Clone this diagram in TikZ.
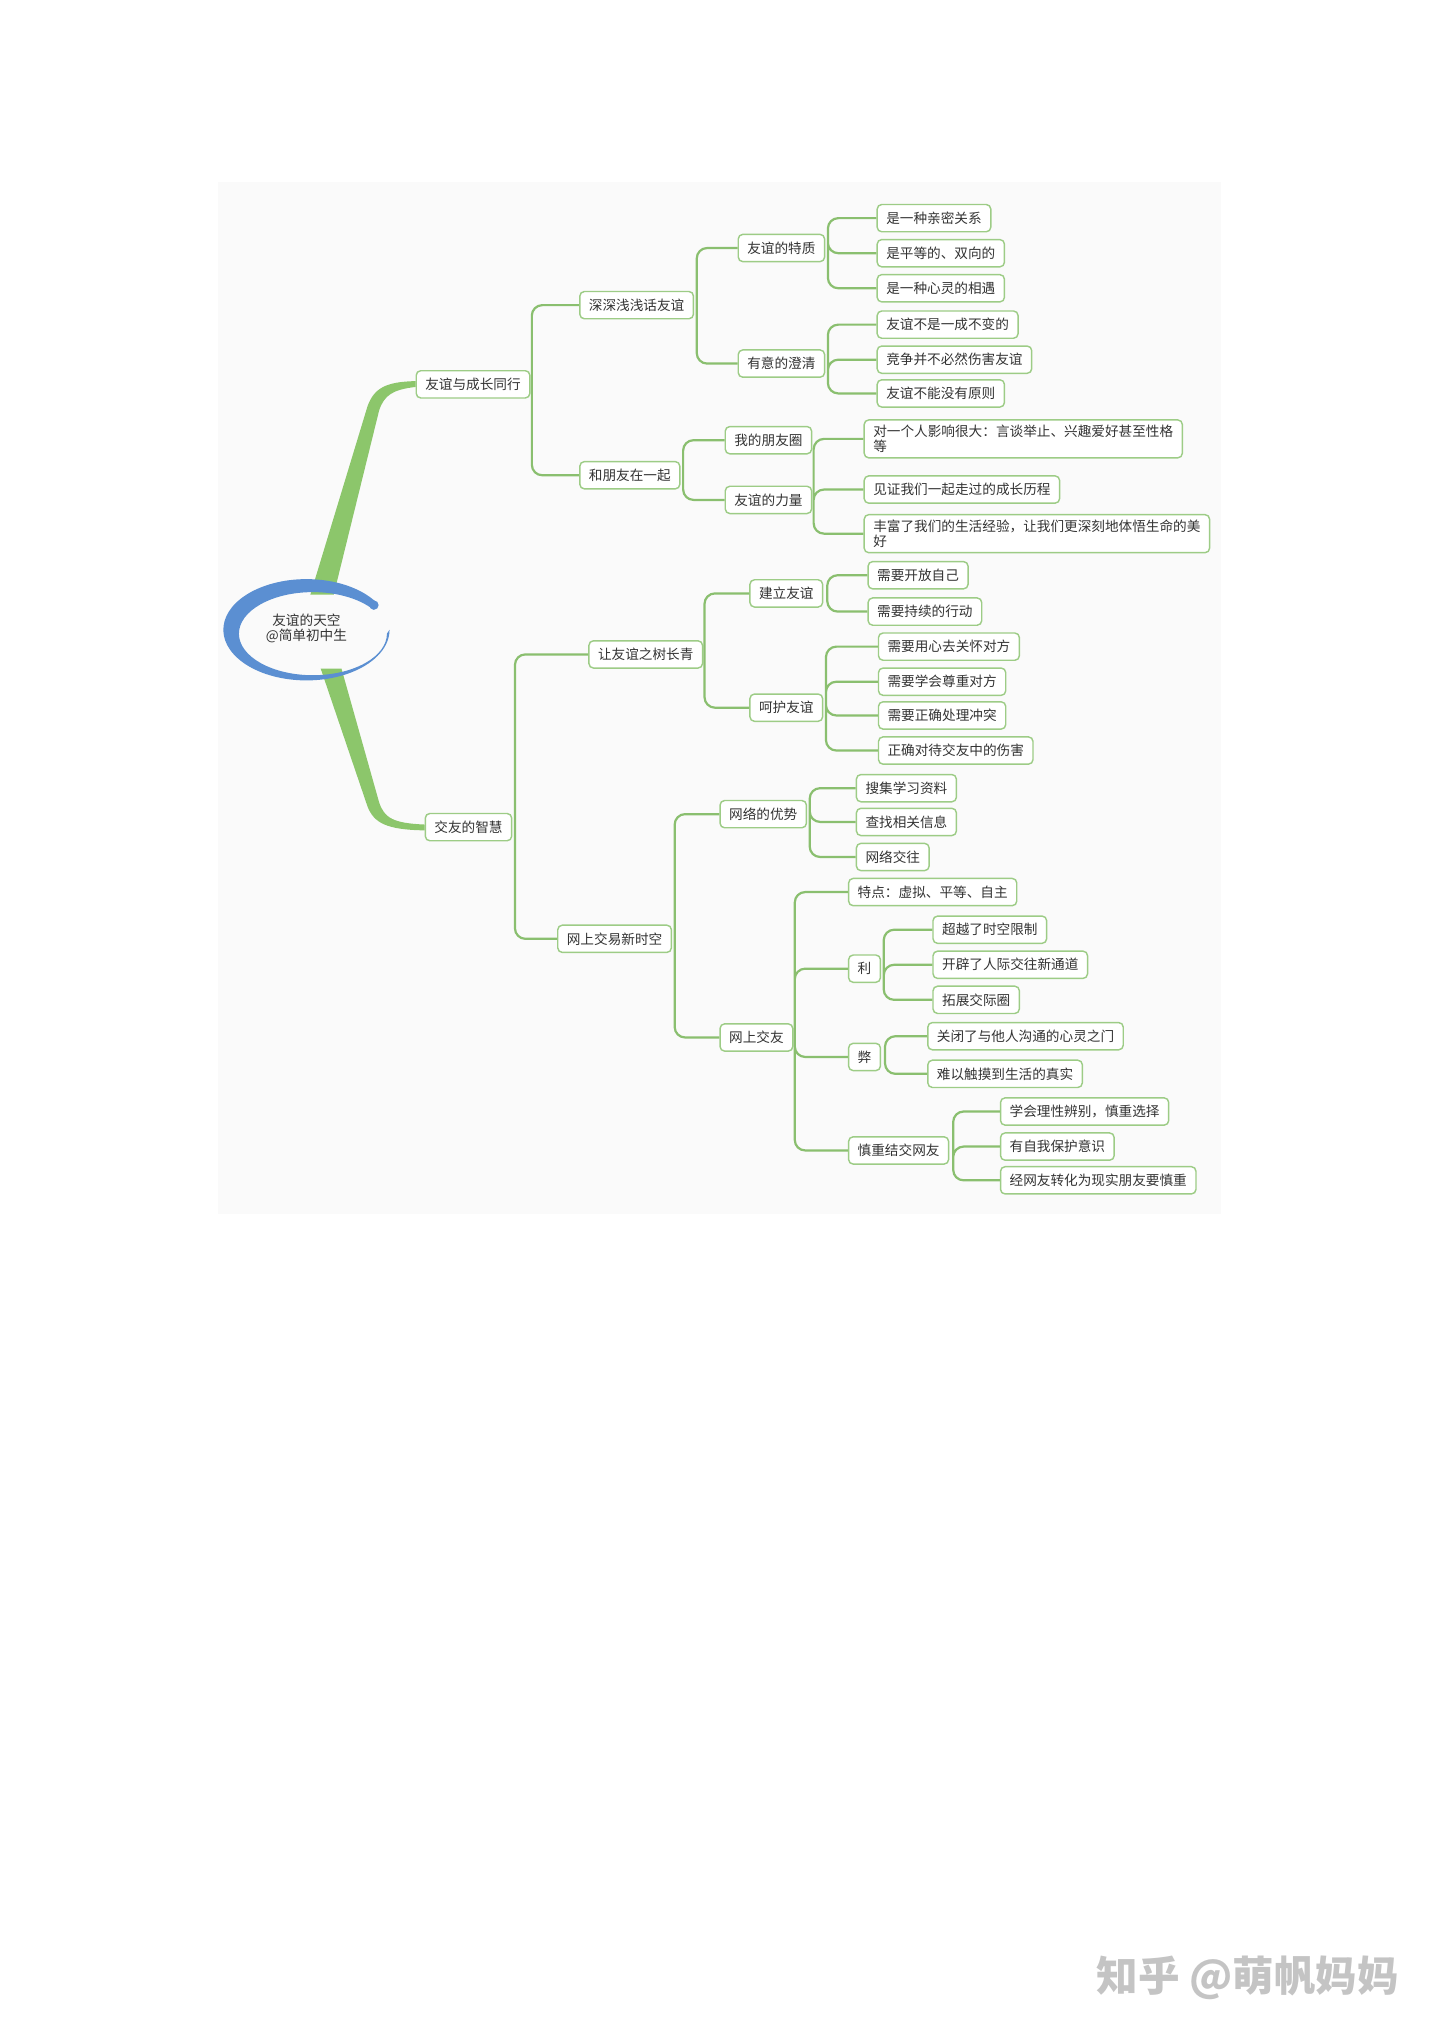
\documentclass[tikz,border=0pt]{standalone}
\usepackage{fontspec}
\setmainfont{Noto Sans CJK SC}
\usepackage{tikz}
\definecolor{yqgreen}{HTML}{8CC66B}
\definecolor{yqline}{HTML}{8ABF6F}
\definecolor{yqbox}{HTML}{9DCC86}
\definecolor{yqblue}{HTML}{5B8FD2}
\definecolor{yqink}{HTML}{333333}
\definecolor{yqgrey}{HTML}{C4C4C4}
\definecolor{yqpaper}{HTML}{FAFAFA}
\tikzset{
  ytopic/.style={draw=yqbox, fill=white, line width=1.1pt, rounded corners=3.5pt, anchor=west, text=yqink,
    font=\fontsize{10.5}{11.5}\selectfont, inner xsep=7pt, inner ysep=3pt, minimum height=21pt},
  ylong/.style={ytopic, align=left, inner ysep=4pt},
  ylink/.style={draw=yqline, line width=1.7pt, rounded corners=8pt},
  ytrunk/.style={fill=yqgreen}
}

\begin{document}
\begin{tikzpicture}[x=1pt, y=-1pt]
  \useasboundingbox (0,0) rectangle (1109,1568);
  \fill[yqpaper] (168,140) rectangle (940,935);
  % root
  \node[align=center, text=yqink, font=\fontsize{10.5}{12}\selectfont] (r) at (236,484) {友谊的天空\\@简单初中生};
  % first level
  \node[ytopic] (a) at (320,296) {友谊与成长同行};
  \node[ytopic] (b) at (327,637) {交友的智慧};
  \fill[ytrunk] (239,458) -- (283,313) .. controls (288,299) and (297,294) .. ([yshift=2.5pt]a.west)
    -- ([yshift=-2pt]a.west) .. controls (303,300) and (296,304) .. (292,316) -- (257,458) -- cycle;
  \fill[ytrunk] (247,515) -- (283,621) .. controls (288,634) and (298,639) .. ([yshift=-2.5pt]b.west)
    -- ([yshift=2pt]b.west) .. controls (303,634) and (296,630) .. (292,618) -- (263,515) -- cycle;
  \fill[yqblue] (236,485) ++(-35:64 and 39) arc[start angle=-35, end angle=-360, x radius=64, y radius=39]
    -- ([shift={(-360:57 and 32)}]241,488) arc[start angle=-360, end angle=-35, x radius=57, y radius=32] -- cycle;
  \fill[yqblue] (288,466) circle[radius=3.6];
  % friendship grows
  \node[ytopic] (a1) at (446,235) {深深浅浅话友谊};
  \node[ytopic] (a2) at (446,366) {和朋友在一起};
  \node[ytopic] (a11) at (568,191) {友谊的特质};
  \node[ytopic] (a12) at (568,280) {有意的澄清};
  \node[ytopic] (a21) at (558,339) {我的朋友圈};
  \node[ytopic] (a22) at (558,385) {友谊的力量};
  \node[ytopic] (a111) at (675,168) {是一种亲密关系};
  \node[ytopic] (a112) at (675,195) {是平等的、双向的};
  \node[ytopic] (a113) at (675,222) {是一种心灵的相遇};
  \node[ytopic] (a121) at (675,250) {友谊不是一成不变的};
  \node[ytopic] (a122) at (675,277) {竞争并不必然伤害友谊};
  \node[ytopic] (a123) at (675,303) {友谊不能没有原则};
  \node[ylong] (a221) at (665,338) {对一个人影响很大：言谈举止、兴趣爱好甚至性格\\等};
  \node[ytopic] (a222) at (665,377) {见证我们一起走过的成长历程};
  \node[ylong] (a223) at (665,411) {丰富了我们的生活经验，让我们更深刻地体悟生命的美\\好};
  \path[ylink] ([xshift=1pt]a.east) |- (a1.west) ([xshift=1pt]a.east) |- (a2.west);
  \path[ylink] ([xshift=2pt]a1.east) |- (a11.west) ([xshift=2pt]a1.east) |- (a12.west);
  \path[ylink] ([xshift=2pt]a2.east) |- (a21.west) ([xshift=2pt]a2.east) |- (a22.west);
  \path[ylink] ([xshift=2pt]a11.east) |- (a111.west) ([xshift=2pt]a11.east) |- (a112.west)
    ([xshift=2pt]a11.east) |- (a113.west);
  \path[ylink] ([xshift=2pt]a12.east) |- (a121.west) ([xshift=2pt]a12.east) |- (a122.west)
    ([xshift=2pt]a12.east) |- (a123.west);
  \path[ylink] ([xshift=1pt]a22.east) |- (a221.west) ([xshift=1pt]a22.east) |- (a222.west)
    ([xshift=1pt]a22.east) |- (a223.west);
  % wisdom of making friends
  \node[ytopic] (b1) at (453,504) {让友谊之树长青};
  \node[ytopic] (b2) at (429,723) {网上交易新时空};
  \node[ytopic] (b11) at (577,457) {建立友谊};
  \node[ytopic] (b12) at (577,545) {呵护友谊};
  \node[ytopic] (b21) at (554,627) {网络的优势};
  \node[ytopic] (b22) at (554,799) {网上交友};
  \node[ytopic] (b111) at (668,443) {需要开放自己};
  \node[ytopic] (b112) at (668,471) {需要持续的行动};
  \node[ytopic] (b121) at (676,498) {需要用心去关怀对方};
  \node[ytopic] (b122) at (676,525) {需要学会尊重对方};
  \node[ytopic] (b123) at (676,551) {需要正确处理冲突};
  \node[ytopic] (b124) at (676,578) {正确对待交友中的伤害};
  \node[ytopic] (b211) at (659,607) {搜集学习资料};
  \node[ytopic] (b212) at (659,633) {查找相关信息};
  \node[ytopic] (b213) at (659,660) {网络交往};
  \node[ytopic] (b221) at (653,687) {特点：虚拟、平等、自主};
  \node[ytopic] (b222) at (653,746) {利};
  \node[ytopic] (b223) at (653,814) {弊};
  \node[ytopic] (b224) at (653,886) {慎重结交网友};
  \node[ytopic] (b2221) at (718,716) {超越了时空限制};
  \node[ytopic] (b2222) at (718,743) {开辟了人际交往新通道};
  \node[ytopic] (b2223) at (718,770) {拓展交际圈};
  \node[ytopic] (b2231) at (714,798) {关闭了与他人沟通的心灵之门};
  \node[ytopic] (b2232) at (714,827) {难以触摸到生活的真实};
  \node[ytopic] (b2241) at (770,856) {学会理性辨别，慎重选择};
  \node[ytopic] (b2242) at (770,883) {有自我保护意识};
  \node[ytopic] (b2243) at (770,909) {经网友转化为现实朋友要慎重};
  \path[ylink] ([xshift=2pt]b.east) |- (b1.west) ([xshift=2pt]b.east) |- (b2.west);
  \path[ylink] ([xshift=1pt]b1.east) |- (b11.west) ([xshift=1pt]b1.east) |- (b12.west);
  \path[ylink] ([xshift=2pt]b2.east) |- (b21.west) ([xshift=2pt]b2.east) |- (b22.west);
  \path[ylink] ([xshift=3pt]b11.east) |- (b111.west) ([xshift=3pt]b11.east) |- (b112.west);
  \path[ylink] ([xshift=2pt]b12.east) |- (b121.west) ([xshift=2pt]b12.east) |- (b122.west)
    ([xshift=2pt]b12.east) |- (b123.west) ([xshift=2pt]b12.east) |- (b124.west);
  \path[ylink] ([xshift=2pt]b21.east) |- (b211.west) ([xshift=2pt]b21.east) |- (b212.west)
    ([xshift=2pt]b21.east) |- (b213.west);
  \path[ylink] ([xshift=1pt]b22.east) |- (b221.west) ([xshift=1pt]b22.east) |- (b222.west)
    ([xshift=1pt]b22.east) |- (b223.west) ([xshift=1pt]b22.east) |- (b224.west);
  \path[ylink] ([xshift=2pt]b222.east) |- (b2221.west) ([xshift=2pt]b222.east) |- (b2222.west)
    ([xshift=2pt]b222.east) |- (b2223.west);
  \path[ylink] ([xshift=3pt]b223.east) |- (b2231.west) ([xshift=3pt]b223.east) |- (b2232.west);
  \path[ylink] ([xshift=3pt]b224.east) |- (b2241.west) ([xshift=3pt]b224.east) |- (b2242.west)
    ([xshift=3pt]b224.east) |- (b2243.west);
  % watermark
  \node[text=yqgrey, font=\fontsize{32}{32}\selectfont\bfseries] (wm) at (961,1523) {知乎 @萌帆妈妈};
\end{tikzpicture}
\end{document}
